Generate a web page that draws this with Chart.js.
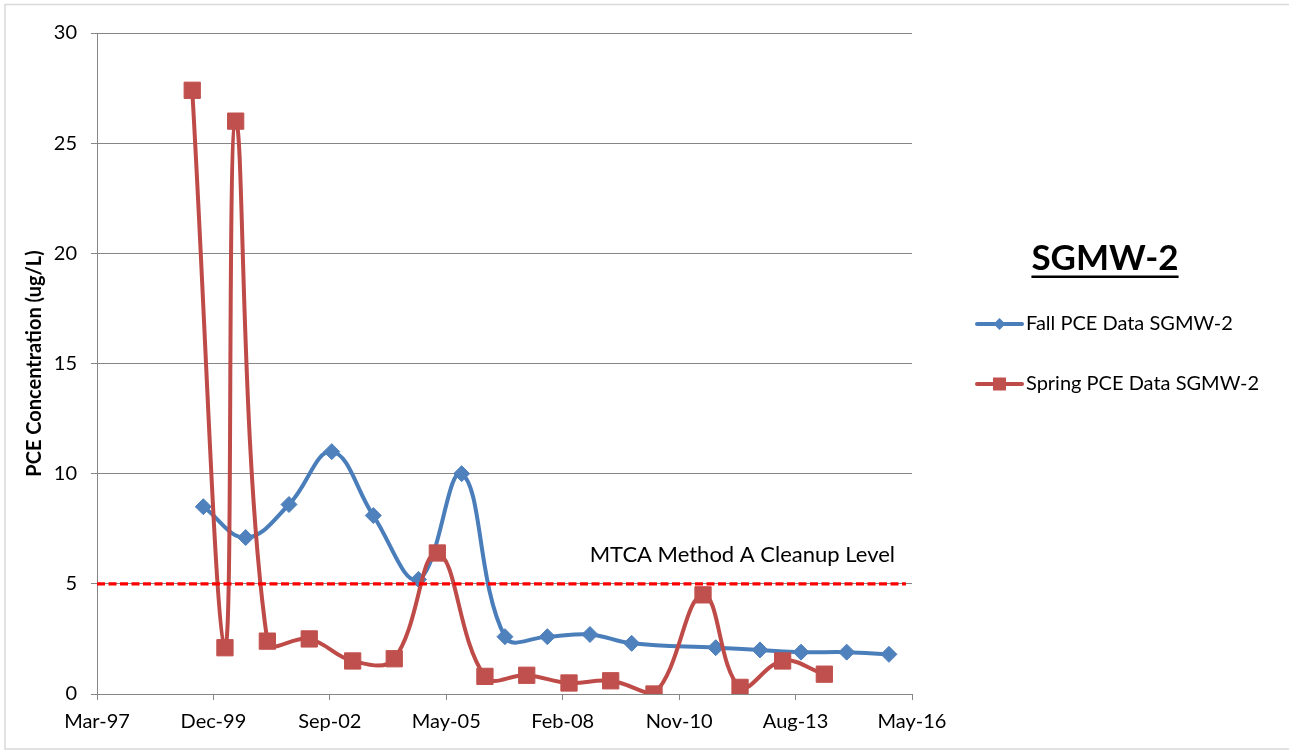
<!DOCTYPE html>
<html>
<head>
<meta charset="utf-8">
<title>SGMW-2 PCE</title>
<script src="https://cdn.jsdelivr.net/npm/chart.js@4.4.1/dist/chart.umd.min.js"></script>
<style>
  body { margin: 0; background: #fff; }
  canvas { display: block; }
</style>
</head>
<body>
<canvas id="pceChart" width="1289" height="751"></canvas>
<script>
// sample dates and PCE values (ug/L)
var fallDates = ['1999-09-10', '2000-09-08', '2001-09-15', '2002-09-17', '2003-09-09', '2004-10-01',
                 '2005-10-07', '2006-10-14', '2007-10-13', '2008-10-13', '2009-10-06', '2011-09-28',
                 '2012-10-12', '2013-09-30', '2014-10-27', '2015-10-25'];
var fallValues = [8.5, 7.1, 8.6, 11.0, 8.1, 5.2, 10.0, 2.6, 2.6, 2.7, 2.3, 2.1, 2.0, 1.9, 1.9, 1.8];

var springDates = ['1999-06-07', '2000-03-14', '2000-06-14', '2001-03-13', '2002-03-08', '2003-03-16',
                   '2004-03-07', '2005-03-12', '2006-04-25', '2007-04-19', '2008-04-16', '2009-04-09',
                   '2010-04-16', '2011-06-11', '2012-04-24', '2013-04-25', '2014-04-18'];
var springValues = [27.4, 2.1, 26.0, 2.4, 2.5, 1.5, 1.6, 6.4, 0.8, 0.85, 0.5, 0.6, 0.0, 4.5, 0.3, 1.5, 0.9];

var cleanupDates = ['1997-03-11', '2016-03-19'];
var cleanupLevel = 5;
var cleanupLabel = 'MTCA Method A Cleanup Level';

var xTickLabels = ['Mar-97', 'Dec-99', 'Sep-02', 'May-05', 'Feb-08', 'Nov-10', 'Aug-13', 'May-16'];
var yTickLabels = ['0', '5', '10', '15', '20', '25', '30'];

var chartTitle = 'SGMW-2';
var fallName = 'Fall PCE Data SGMW-2';
var springName = 'Spring PCE Data SGMW-2';
var yTitle = 'PCE Concentration (ug/L)';

var FONT = 'Lato, "Open Sans", sans-serif';
var BLUE = '#4a7ebb', BLUE_FILL = '#4f81bd';
var RED = '#be4b48', RED_FILL = '#c0504d';

function toDays(s) {
    var p = s.split('-');
    return Date.UTC(+p[0], +p[1] - 1, +p[2]) / 86400000;
}

function makePoints(dates, values) {
    var pts = [];
    for (var i = 0; i < dates.length; i++) {
        pts.push({ x: toDays(dates[i]), y: values[i] });
    }
    return pts;
}

var xMin = toDays('1997-03-11');
var xMax = toDays('2016-05-10');

// border, title, legend and the cleanup label
var extrasPlugin = {
    id: 'extras',
    beforeDraw: function (chart) {
        var ctx = chart.ctx;
        ctx.save();
        ctx.fillStyle = '#fff';
        ctx.fillRect(0, 0, chart.width, chart.height);
        ctx.strokeStyle = '#d9d9d9';
        ctx.lineWidth = 1.5;
        ctx.strokeRect(5, 4.5, 1300, 744.5);
        ctx.restore();
    },
    afterDraw: function (chart) {
        var ctx = chart.ctx;
        var area = chart.chartArea;
        var ys = chart.scales.y;
        ctx.save();

        // y axis title
        ctx.translate(35, (area.top + area.bottom) / 2);
        ctx.rotate(-Math.PI / 2);
        ctx.fillStyle = '#000';
        ctx.font = 'bold 20px ' + FONT;
        ctx.textAlign = 'center';
        ctx.textBaseline = 'middle';
        ctx.fillText(yTitle, 0, 0);
        ctx.setTransform(1, 0, 0, 1, 0, 0);

        // cleanup label
        ctx.font = '22px ' + FONT;
        ctx.textAlign = 'right';
        ctx.textBaseline = 'alphabetic';
        ctx.fillText(cleanupLabel, area.right - 17, ys.getPixelForValue(cleanupLevel) - 22);

        // chart title
        ctx.font = 'bold 35px ' + FONT;
        ctx.textAlign = 'center';
        ctx.fillText(chartTitle, 1105, 270);
        var tw = ctx.measureText(chartTitle).width;
        ctx.fillRect(1105 - tw / 2, 275.5, tw, 2.5);

        // legend
        ctx.lineWidth = 4;
        ctx.lineCap = 'round';
        ctx.strokeStyle = BLUE;
        ctx.beginPath(); ctx.moveTo(977, 324); ctx.lineTo(1022, 324); ctx.stroke();
        ctx.fillStyle = BLUE_FILL;
        ctx.beginPath();
        ctx.moveTo(999.5, 318); ctx.lineTo(1005.5, 324); ctx.lineTo(999.5, 330); ctx.lineTo(993.5, 324);
        ctx.closePath(); ctx.fill();

        ctx.strokeStyle = RED;
        ctx.beginPath(); ctx.moveTo(977, 384); ctx.lineTo(1022, 384); ctx.stroke();
        ctx.fillStyle = RED_FILL;
        ctx.fillRect(993, 377.5, 13, 13);

        ctx.fillStyle = '#000';
        ctx.font = '20px ' + FONT;
        ctx.textAlign = 'left';
        ctx.textBaseline = 'middle';
        ctx.fillText(fallName, 1026, 324);
        ctx.fillText(springName, 1026, 384);
        ctx.restore();
    }
};

var pceCanvas = document.getElementById('pceChart').getContext('2d');

var pceChart = new Chart(pceCanvas, {
    type: 'line',
    data: {
        datasets: [{
            label: 'cleanup',
            data: makePoints(cleanupDates, [cleanupLevel, cleanupLevel]),
            borderColor: '#ff0000',
            borderWidth: 3.3,
            borderDash: [8, 3.5],
            pointRadius: 0,
            tension: 0,
            order: 0
        }, {
            label: springName,
            data: makePoints(springDates, springValues),
            borderColor: RED,
            borderWidth: 4,
            pointStyle: 'rect',
            pointRadius: 11.5,
            pointBackgroundColor: RED_FILL,
            pointBorderColor: RED_FILL,
            pointBorderWidth: 1,
            tension: 0.4,
            order: 1
        }, {
            label: fallName,
            data: makePoints(fallDates, fallValues),
            borderColor: BLUE,
            borderWidth: 4,
            pointStyle: 'rectRot',
            pointRadius: 8,
            pointBackgroundColor: BLUE_FILL,
            pointBorderColor: BLUE_FILL,
            pointBorderWidth: 1,
            tension: 0.4,
            order: 2
        }]
    },
    options: {
        responsive: false,
        animation: false,
        layout: { padding: { left: 0, top: 33, right: 377, bottom: 0 } },
        plugins: {
            legend: { display: false },
            tooltip: { enabled: false }
        },
        scales: {
            x: {
                type: 'linear',
                min: xMin,
                max: xMax,
                afterFit: function (scale) { scale.height = 57; },
                afterBuildTicks: function (scale) {
                    scale.ticks = xTickLabels.map(function (l, i) { return { value: xMin + i * 1000 }; });
                },
                grid: { drawOnChartArea: false, color: '#868686', tickLength: 6 },
                border: { color: '#868686', width: 1 },
                ticks: {
                    color: '#000',
                    font: { family: FONT, size: 20 },
                    padding: 10,
                    maxRotation: 0,
                    autoSkip: false,
                    callback: function (v, i) { return xTickLabels[i]; }
                }
            },
            y: {
                min: 0,
                max: 30,
                afterFit: function (scale) { scale.width = 97; },
                afterBuildTicks: function (scale) {
                    scale.ticks = yTickLabels.map(function (l) { return { value: +l }; });
                },
                grid: { color: '#868686', tickLength: 6 },
                border: { color: '#868686', width: 1 },
                ticks: {
                    color: '#000',
                    font: { family: FONT, size: 20 },
                    padding: 14,
                    callback: function (v, i) { return yTickLabels[i]; }
                }
            }
        }
    },
    plugins: [extrasPlugin]
});
</script>
</body>
</html>
